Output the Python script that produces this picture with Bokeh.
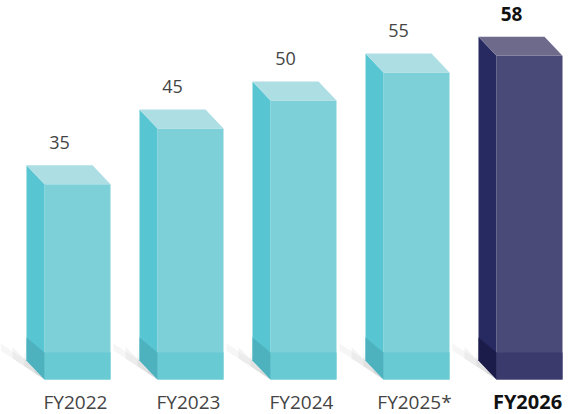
from bokeh.plotting import figure
from bokeh.models import Range1d
from bokeh.core.properties import value
from bokeh.embed import file_html
from bokeh.resources import INLINE

categories = ["FY2022", "FY2023", "FY2024", "FY2025*", "FY2026"]
values = [35, 45, 50, 55, 58]
highlight = [False, False, False, False, True]

# geometry (px -> data conversions)
PX_X = 113.0          # px per category
PX_Y = 5.58           # px per value unit
W = 33 / PX_X         # half front width
DX = -18 / PX_X       # depth offset x
DY = 19 / PX_Y        # depth offset y
BAND = 27 / PX_Y      # bottom band height

teal = dict(front="#7DCFD8", side="#58C6D2", top="#ADDEE4", bfront="#68CAD3", bside="#4DB2BE")
navy = dict(front="#4A4A78", side="#262A60", top="#6E6A8C", bfront="#3A3A6C", bside="#1C1C4A")

p = figure(width=571, height=414, output_backend="svg", toolbar_location=None,
           x_range=Range1d(-77 / PX_X, (571 - 77) / PX_X),
           y_range=Range1d(-35 / PX_Y, 379 / PX_Y), min_border=0)
p.axis.visible = False
p.grid.visible = False
p.outline_line_color = None
p.background_fill_color = "white"
p.border_fill_color = "white"

# soft shadows to the lower-left of each bar
for lx, a in [(44, 0.10), (32, 0.12), (20, 0.14), (10, 0.16)]:
    xs, ys = [], []
    for i, v in enumerate(values):
        fl = i - W
        top_y = (36 - (44 - lx) * 0.30) / PX_Y
        bot_y = (29 - (44 - lx) * 0.66) / PX_Y
        xs.append([fl - lx / PX_X, fl + DX, fl, fl - lx / PX_X])
        ys.append([top_y, DY, 0, bot_y])
    p.patches(xs=xs, ys=ys, fill_color="#a8a8a8", fill_alpha=a, line_color=None)

for i, (v, h) in enumerate(zip(values, highlight)):
    c = navy if h else teal
    fl, fr = i - W, i + W
    # front face
    p.quad(left=[fl], right=[fr], bottom=[0], top=[v], fill_color=c["front"], line_color=None)
    p.quad(left=[fl], right=[fr], bottom=[0], top=[BAND], fill_color=c["bfront"], line_color=None)
    # side face
    p.patch(x=[fl + DX, fl, fl, fl + DX], y=[DY, 0, v, v + DY], fill_color=c["side"], line_color=None)
    p.patch(x=[fl + DX, fl, fl, fl + DX], y=[DY, 0, BAND, BAND + DY - 4 / PX_Y],
            fill_color=c["bside"], line_color=None)
    # top face
    p.patch(x=[fl, fr, fr + DX, fl + DX], y=[v, v, v + DY, v + DY], fill_color=c["top"], line_color=None)

    # value label
    p.text(x=[i + DX], y=[v + DY + 23 / PX_Y], text=[str(v)],
           text_font=value("Open Sans"),
           text_font_size="19px" if h else "18px",
           text_font_style="bold" if h else "normal",
           text_color="#111111" if h else "#444444",
           text_align="center", text_baseline="middle")
    # category label
    p.text(x=[i - 2 / PX_X], y=[-22 / PX_Y], text=[categories[i]],
           text_font=value("Open Sans"),
           text_font_size="20px" if h else "19px",
           text_font_style="bold" if h else "normal",
           text_color="#111111" if h else "#444444",
           text_align="center", text_baseline="middle")

open("out.html", "w").write(file_html(p, INLINE))
